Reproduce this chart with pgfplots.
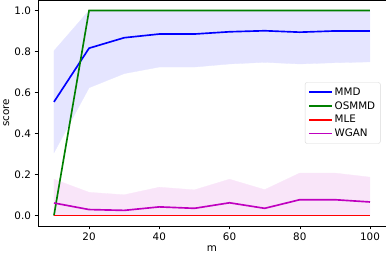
\documentclass[border=0pt]{standalone}
\usepackage{fontspec}
\setmainfont{DejaVu Sans}
\usepackage{pgfplots}
\pgfplotsset{compat=1.18}
\definecolor{mgreen}{rgb}{0,0.5,0}
\definecolor{mmag}{rgb}{0.75,0,0.75}
\definecolor{mred}{rgb}{1,0,0}
\definecolor{mblue}{rgb}{0,0,1}
\definecolor{bandblue}{rgb}{0.9,0.9,1}
\definecolor{bandmag}{rgb}{0.975,0.9,0.975}
\begin{document}
\fontsize{10}{12}\selectfont
\begin{tikzpicture}
\begin{axis}[
  scale only axis,
  width=336pt, height=218pt,
  xmin=5.5, xmax=104.5, ymin=-0.05, ymax=1.05,
  xtick={20,40,60,80,100},
  ytick={0,0.2,0.4,0.6,0.8,1.0},
  yticklabel style={/pgf/number format/fixed,/pgf/number format/fixed zerofill,/pgf/number format/precision=1},
  /pgf/number format/assume math mode=true,
  tick align=outside, tick style={black, thin},
  xtick pos=bottom, ytick pos=left,
  major tick length=3.5pt,
  xlabel={m}, ylabel={score},
  xlabel style={yshift=2pt},
  ylabel style={yshift=-2pt},
  every axis label/.append style={font=\fontsize{10}{12}\selectfont},
  ticklabel style={font=\fontsize{10}{12}\selectfont},
  axis line style={black, thin},
  legend style={at={(0.985,0.5)}, anchor=east, draw=black!15, rounded corners=2pt, font=\fontsize{10}{12}\selectfont, cells={anchor=west}, row sep=0.5pt, inner sep=3pt},
  legend image code/.code={\draw[#1] (0pt,0pt) -- (22pt,0pt);},
  legend cell align=left,
]
% MMD band (upper, then lower reversed)
\addplot[draw=bandblue, fill=bandblue, forget plot, line width=0.3pt] coordinates {(10,0.803)(20,1.0)(30,1.0)(40,1.0)(50,1.0)(60,1.0)(70,1.0)(80,1.0)(90,1.0)(100,1.0)
 (100,0.749)(90,0.745)(80,0.739)(70,0.747)(60,0.739)(50,0.724)(40,0.724)(30,0.692)(20,0.623)(10,0.306)} -- cycle;
% WGAN band
\addplot[draw=bandmag, fill=bandmag, forget plot, line width=0.3pt] coordinates {(10,0.177)(20,0.113)(30,0.101)(40,0.138)(50,0.125)(60,0.177)(70,0.126)(80,0.207)(90,0.207)(100,0.187)
 (100,0)(90,0)(80,0)(70,0)(60,0)(50,0)(40,0)(30,0)(20,0)(10,0)} -- cycle;
\addplot[mblue, line width=1.6pt] coordinates {(10,0.554)(20,0.816)(30,0.867)(40,0.885)(50,0.885)(60,0.896)(70,0.901)(80,0.894)(90,0.900)(100,0.900)};
\addlegendentry{MMD}
\addplot[mgreen, line width=1.6pt] coordinates {(10,0)(20,1)(30,1)(40,1)(50,1)(60,1)(70,1)(80,1)(90,1)(100,1)};
\addlegendentry{OSMMD}
\addplot[mred, line width=1.6pt] coordinates {(10,0)(20,0)(30,0)(40,0)(50,0)(60,0)(70,0)(80,0)(90,0)(100,0)};
\addlegendentry{MLE}
\addplot[mmag, line width=1.6pt] coordinates {(10,0.061)(20,0.029)(30,0.025)(40,0.042)(50,0.035)(60,0.062)(70,0.035)(80,0.077)(90,0.077)(100,0.066)};
\addlegendentry{WGAN}
\end{axis}
\end{tikzpicture}
\end{document}
